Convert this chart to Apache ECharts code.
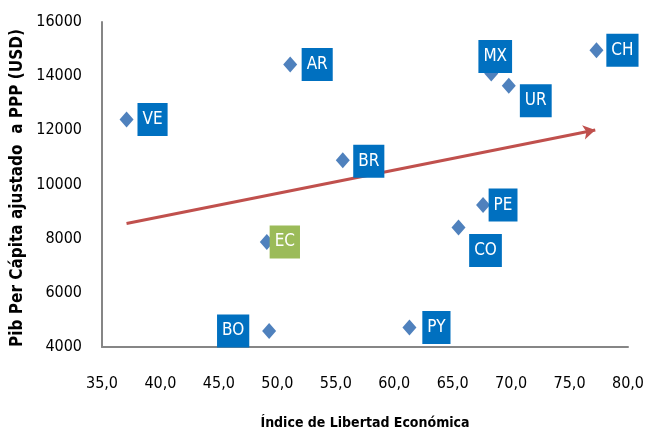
<!DOCTYPE html>
<html>
<head>
<meta charset="utf-8">
<script src="https://cdn.jsdelivr.net/npm/echarts@6/dist/echarts.min.js"></script>
<style>
html,body{margin:0;padding:0;background:#fff;}
#chart{width:646px;height:432px;}
</style>
</head>
<body>
<div id="chart"></div>
<script>
// Data
const countries = ['VE','AR','BR','MX','UR','CH','EC','BO','PE','CO','PY'];
const freedomIndex = [37.1, 51.1, 55.6, 68.3, 69.8, 77.3, 49.1, 49.3, 67.6, 65.5, 61.3];
const gdpPerCapita = [12400, 14430, 10900, 14100, 13650, 14960, 7880, 4590, 9240, 8410, 4720];
const trendX = [37.1, 77.2];
const trendY = [8560, 12010];
const xTicks = {min: 35, max: 80, interval: 5};
const yTicks = {min: 4000, max: 16000, interval: 2000};

// Label styling (positions relative to point)
const labelOffsets = {
  VE:[26,0], AR:[27,0], BR:[26,1], MX:[4,-17], UR:[27,15], CH:[26,0],
  EC:[18,0], BO:[-36,0], PE:[20,0], CO:[27,23], PY:[27,0]
};
const labelColors = {EC:'#9BBB59'};

const FONT = "'Liberation Sans Narrow','DejaVu Sans Condensed',sans-serif";

const chart = echarts.init(document.getElementById('chart'), null, {renderer:'canvas'});

const points = countries.map((c,i)=>({
  value:[freedomIndex[i], gdpPerCapita[i]],
  name:c,
  label:{
    show:true,
    position:'inside',
    offset:labelOffsets[c],
    formatter:c,
    backgroundColor:labelColors[c] || '#0070C0',
    color:'#fff',
    opacity:1,
    fontFamily:FONT,
    fontSize:17,
    lineHeight:17,
    padding:[8,5,8,5]
  }
}));

chart.setOption({
  animation:false,
  grid:{left:102, right:18, top:22, bottom:85, containLabel:false, outerBoundsMode:'none'},
  xAxis:{
    type:'value',
    min:xTicks.min, max:xTicks.max, interval:xTicks.interval,
    name:'Índice de Libertad Económica',
    nameLocation:'middle',
    nameGap:69,
    nameTextStyle:{fontFamily:FONT, fontWeight:'bold', fontSize:14, color:'#000'},
    axisLine:{show:true, lineStyle:{color:'#868686', width:2}},
    axisTick:{show:false},
    splitLine:{show:false},
    axisLabel:{margin:29, color:'#000', fontFamily:FONT, fontSize:16,
      formatter:v=>v.toFixed(1).replace('.',',')}
  },
  yAxis:{
    type:'value',
    min:yTicks.min, max:yTicks.max, interval:yTicks.interval,
    axisLine:{show:true, lineStyle:{color:'#868686', width:2}},
    axisTick:{show:false},
    splitLine:{show:false},
    axisLabel:{margin:20, color:'#000', fontFamily:FONT, fontSize:16,
      formatter:v=>String(v)}
  },
  graphic:[{
    type:'text',
    x:18, y:188,
    rotation:Math.PI/2,
    style:{
      text:'Pib Per Cápita ajustado  a PPP (USD)',
      font:"bold 17px 'Liberation Sans Narrow','DejaVu Sans Condensed',sans-serif",
      fill:'#000',
      textAlign:'center', textVerticalAlign:'middle',
      align:'center', verticalAlign:'middle'
    }
  }],
  series:[
    {
      type:'line',
      data:trendX.map((x,i)=>[x, trendY[i]]),
      symbol:'none',
      lineStyle:{color:'#C0504D', width:3},
      z:1,
      markLine:{
        silent:true,
        symbol:['none','arrow'],
        symbolSize:[11,12],
        label:{show:false},
        lineStyle:{color:'#C0504D', width:0, type:'solid'},
        data:[[{coord:[trendX[0],trendY[0]]},{coord:[trendX[1],trendY[1]]}]]
      }
    },
    {
      type:'scatter',
      symbol:'diamond',
      symbolSize:[14,16],
      itemStyle:{color:'#4F81BD', opacity:1},
      data:points,
      z:3
    }
  ]
});
</script>
</body>
</html>
